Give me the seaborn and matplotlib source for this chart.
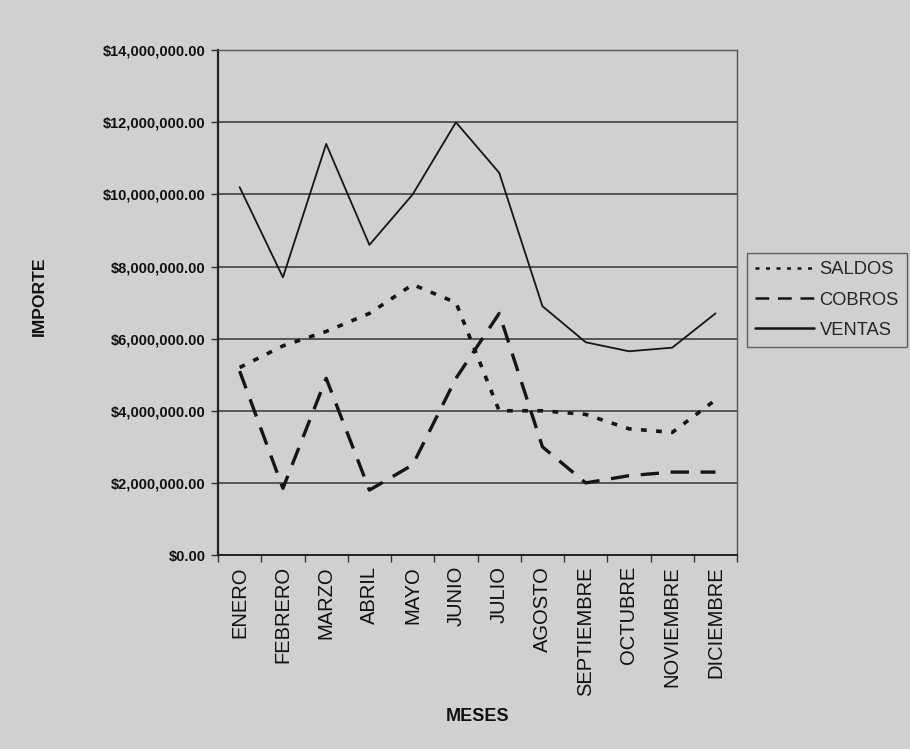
import matplotlib
matplotlib.use("Agg")
import matplotlib.pyplot as plt
import matplotlib.ticker as mticker
import numpy as np
import pandas as pd
import seaborn as sns

meses = ["ENERO", "FEBRERO", "MARZO", "ABRIL", "MAYO", "JUNIO", "JULIO",
         "AGOSTO", "SEPTIEMBRE", "OCTUBRE", "NOVIEMBRE", "DICIEMBRE"]
saldos = [5200000, 5800000, 6200000, 6700000, 7500000, 7000000, 4000000,
          4000000, 3900000, 3500000, 3400000, 4300000]
cobros = [5100000, 1850000, 4900000, 1800000, 2500000, 4900000, 6700000,
          3000000, 2000000, 2200000, 2300000, 2300000]
ventas = [10200000, 7700000, 11400000, 8600000, 10000000, 12000000, 10600000,
          6900000, 5900000, 5650000, 5750000, 6700000]
series = ["SALDOS", "COBROS", "VENTAS"]

df = pd.DataFrame({
    "mes": meses * 3,
    "pos": list(range(len(meses))) * 3,
    "importe": saldos + cobros + ventas,
    "serie": [s for s in series for _ in meses],
})

sns.set_theme(style="white")
plt.rcParams["font.family"] = ["Liberation Sans", "DejaVu Sans"]

bg = "#d0d0d0"
fig = plt.figure(figsize=(9.10, 7.49), dpi=100, facecolor=bg)
ax = fig.add_axes([0.2396, 0.259, 0.5704, 0.674])
ax.set_facecolor(bg)

estilos = {"SALDOS": (1.6, 2.6), "COBROS": (5.5, 3.5), "VENTAS": ""}
anchos = {"SALDOS": 2.6, "COBROS": 2.4, "VENTAS": 1.3}
for s in series:
    sub = df[df["serie"] == s]
    sns.lineplot(data=sub, x="pos", y="importe", ax=ax, color="#151515",
                 linewidth=anchos[s], label=s, legend=False,
                 dashes=False, estimator=None)
    line = ax.lines[-1]
    if estilos[s]:
        line.set_dashes(estilos[s])
        line.set_dash_capstyle("butt")

ax.set_xlim(-0.5, len(meses) - 0.5)
ax.set_ylim(0, 14000000)
ax.yaxis.set_major_locator(mticker.MultipleLocator(2000000))
ax.yaxis.set_major_formatter(mticker.FuncFormatter(lambda v, p: f"${v:,.2f}"))
ax.grid(axis="y", color="#353535", linewidth=1.1)
ax.set_axisbelow(True)

ax.set_xticks(range(len(meses)))
ax.set_xticklabels(meses, rotation=90, fontsize=14.5, color="#111111")
ax.set_xticks(np.arange(-0.5, len(meses), 1.0), minor=True)
ax.tick_params(axis="x", which="major", length=0, pad=8)
ax.tick_params(axis="x", which="minor", length=5, width=1, color="#333333",
               direction="out", bottom=True)
ax.tick_params(axis="y", length=5, width=1, color="#333333", direction="out",
               left=True, labelsize=10.5, labelcolor="#111111", pad=4)
for lbl in ax.get_yticklabels():
    lbl.set_fontweight("bold")

for side, sp in ax.spines.items():
    sp.set_visible(True)
    sp.set_color("#555555")
    sp.set_linewidth(1.0)
ax.spines["left"].set_color("#222222")
ax.spines["left"].set_linewidth(1.6)
ax.spines["bottom"].set_color("#222222")
ax.spines["bottom"].set_linewidth(1.4)

ax.set_xlabel("MESES", fontsize=13, fontweight="bold", color="#111111")
ax.xaxis.set_label_coords(0.5, -0.303)
ax.set_ylabel("IMPORTE", fontsize=12.6, fontweight="bold", color="#111111")
ax.yaxis.set_label_coords(-0.329, 0.513)

leg = fig.legend(handles=ax.lines[:3], labels=series, loc="upper left",
                 bbox_to_anchor=(0.821, 0.662), frameon=True, fancybox=False,
                 fontsize=13.2, handlelength=3.2, handletextpad=0.3,
                 borderpad=0.45, labelspacing=0.72, borderaxespad=0)
leg.get_frame().set_edgecolor("#444444")
leg.get_frame().set_facecolor(bg)
leg.get_frame().set_linewidth(1.0)
for h in leg.legend_handles:
    h.set_linewidth(1.8)

fig.savefig("out.png", dpi=100, facecolor=bg)
